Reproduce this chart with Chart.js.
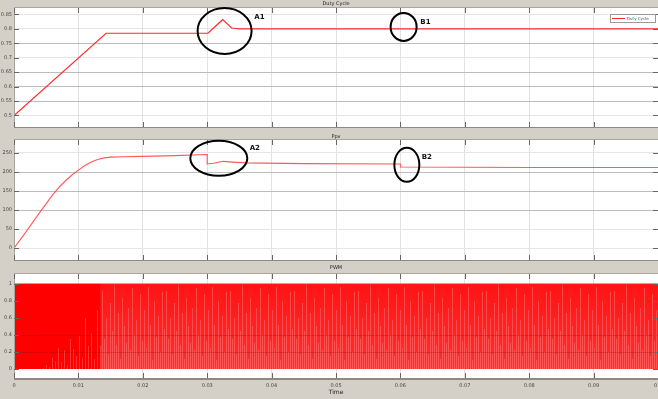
<!DOCTYPE html>
<html>
<head>
<meta charset="utf-8">
<script src="https://cdn.jsdelivr.net/npm/chart.js@4.4.1/dist/chart.umd.min.js"></script>
<style>
  html, body { margin: 0; padding: 0; background: #d4d0c8; }
  body { width: 658px; height: 399px; position: relative; overflow: hidden; }
  canvas { position: absolute; left: 0; }
</style>
</head>
<body>
<canvas id="duty" width="658" height="128" style="top:0px"></canvas>
<canvas id="ppv" width="658" height="133" style="top:128px"></canvas>
<canvas id="pwm" width="658" height="138" style="top:261px"></canvas>
<script>
// ---- shared time axis ----
const timeTicks  = [0, 0.01, 0.02, 0.03, 0.04, 0.05, 0.06, 0.07, 0.08, 0.09, 0.1];
const timeLabels = ['0', '0.01', '0.02', '0.03', '0.04', '0.05', '0.06', '0.07', '0.08', '0.09', '0.1'];

// ---- duty cycle ----
const dutyTime   = [0, 0.0143, 0.0301, 0.0324, 0.0338, 0.0350, 0.0600, 0.1000];
const dutyValue  = [0.500, 0.785, 0.785, 0.832, 0.803, 0.800, 0.800, 0.800];
const dutyTicks  = [0.5, 0.55, 0.6, 0.65, 0.7, 0.75, 0.8, 0.85];
const dutyLabels = ['0.5', '0.55', '0.6', '0.65', '0.7', '0.75', '0.8', '0.85'];

// ---- PV power ----
const ppvTime   = [0, 0.002, 0.004, 0.006, 0.007, 0.008, 0.009, 0.010, 0.011, 0.012, 0.013, 0.014, 0.015, 0.017, 0.020, 0.025, 0.030, 0.030, 0.031, 0.0325, 0.034, 0.036, 0.045, 0.060, 0.060, 0.080, 0.100];
const ppvValue  = [0, 46, 94, 140, 160, 177, 192, 205, 217, 226, 233, 237, 239, 240, 241, 243, 246, 221, 223, 228, 226, 224, 222, 221, 213, 212, 212];
const ppvTicks  = [0, 50, 100, 150, 200, 250];
const ppvLabels = ['0', '50', '100', '150', '200', '250'];

// ---- PWM switching band (high / low levels per phase) ----
const pwmStartTime = [0, 0.0135];
const pwmTrackTime = [0.0135, 0.1];
const pwmHigh = 1;
const pwmLow  = 0;
const pwmTicks  = [0, 0.2, 0.4, 0.6, 0.8, 1];
const pwmLabels = ['0', '0.2', '0.4', '0.6', '0.8', '1'];

// ---- callouts (centres in data units) ----
const dutyNotes = [
  { text: 'A1', t: 0.0327, v: 0.793, lt: 0.0373, lv: 0.841 },
  { text: 'B1', t: 0.0605, v: 0.807, lt: 0.0631, lv: 0.824 }
];
const ppvNotes = [
  { text: 'A2', t: 0.0318, v: 236, lt: 0.0366, lv: 263 },
  { text: 'B2', t: 0.0610, v: 219, lt: 0.0633, lv: 240 }
];

const FONT = 'DejaVu Sans';
const noteShape = { A1: [27, 23], B1: [13, 14], A2: [28.5, 17.5], B2: [12.5, 17] };

const toPoints = (xs, ys) => xs.map((x, i) => ({ x, y: Array.isArray(ys) ? ys[i] : ys }));
const near = (a, b) => Math.abs(a - b) < 1e-9;

// Scope-style frame: white plot box, inward ticks, title, callouts, legend
const scopeFrame = {
  id: 'scopeFrame',
  beforeDraw(chart) {
    const { ctx, chartArea: a } = chart;
    ctx.save();
    ctx.fillStyle = '#d4d0c8';
    ctx.fillRect(0, 0, chart.width, chart.height);
    ctx.fillStyle = '#ffffff';
    ctx.fillRect(a.left, a.top, a.right - a.left, a.bottom - a.top);
    ctx.restore();
  },
  afterDatasetsDraw(chart, args, opts) {
    const { ctx, chartArea: a, scales } = chart;
    ctx.save();
    // faint grid rows that show through the filled band
    (opts.overRows || []).forEach(v => {
      const y = Math.round(scales.y.getPixelForValue(v)) + 0.5;
      ctx.strokeStyle = 'rgba(110,0,0,0.22)';
      ctx.lineWidth = 1;
      ctx.beginPath(); ctx.moveTo(a.left, y); ctx.lineTo(a.right, y); ctx.stroke();
    });
    ctx.restore();
  },
  afterDraw(chart, args, opts) {
    const { ctx, chartArea: a, scales } = chart;
    ctx.save();
    // box
    ctx.strokeStyle = '#a9a59d';
    ctx.lineWidth = 1;
    ctx.strokeRect(a.left + 0.5, a.top - 0.5, a.right - a.left, a.bottom - a.top + 1);
    ctx.strokeStyle = '#8e8a83';
    ctx.lineWidth = 2;
    ctx.beginPath(); ctx.moveTo(a.left, a.bottom + 1); ctx.lineTo(a.right, a.bottom + 1); ctx.stroke();
    // inward tick marks
    ctx.strokeStyle = '#666';
    ctx.lineWidth = 1;
    scales.y.ticks.forEach(t => {
      const y = Math.round(scales.y.getPixelForValue(t.value)) + 0.5;
      ctx.beginPath();
      ctx.moveTo(a.left, y); ctx.lineTo(a.left + 5, y);
      ctx.moveTo(a.right - 5, y); ctx.lineTo(a.right, y);
      ctx.stroke();
    });
    scales.x.ticks.forEach(t => {
      const x = Math.round(scales.x.getPixelForValue(t.value)) + 0.5;
      ctx.beginPath();
      ctx.moveTo(x, a.bottom); ctx.lineTo(x, a.bottom - 5);
      ctx.moveTo(x, a.top); ctx.lineTo(x, a.top + 5);
      ctx.stroke();
    });
    // panel title in the grey band
    ctx.fillStyle = '#222';
    ctx.font = '5px "' + FONT + '"';
    ctx.textAlign = 'center';
    ctx.textBaseline = 'middle';
    ctx.fillText(opts.title, (a.left + a.right) / 2, a.top - opts.titleGap);
    // callouts
    (opts.notes || []).forEach(n => {
      const cx = scales.x.getPixelForValue(n.t);
      const cy = scales.y.getPixelForValue(n.v);
      const [rx, ry] = noteShape[n.text];
      ctx.strokeStyle = '#000';
      ctx.lineWidth = 2;
      ctx.beginPath();
      ctx.ellipse(cx, cy, rx, ry, 0, 0, Math.PI * 2);
      ctx.stroke();
      ctx.fillStyle = '#111';
      ctx.font = 'bold 7px "' + FONT + '"';
      ctx.textAlign = 'left';
      ctx.fillText(n.text, scales.x.getPixelForValue(n.lt), scales.y.getPixelForValue(n.lv));
    });
    // legend box
    if (opts.legend) {
      const ds = chart.data.datasets[0];
      const bx = a.right - 48, by = a.top + 6, bw = 45, bh = 8;
      ctx.fillStyle = '#fff';
      ctx.fillRect(bx, by, bw, bh);
      ctx.strokeStyle = '#9a9a9a';
      ctx.lineWidth = 1;
      ctx.strokeRect(bx + 0.5, by + 0.5, bw, bh);
      ctx.strokeStyle = ds.borderColor;
      ctx.beginPath(); ctx.moveTo(bx + 2, by + 4.5); ctx.lineTo(bx + 15, by + 4.5); ctx.stroke();
      ctx.fillStyle = '#555';
      ctx.font = '4px "' + FONT + '"';
      ctx.textAlign = 'left';
      ctx.fillText(ds.label, bx + 17, by + 4.5);
    }
    ctx.restore();
  }
};

function yScale(min, max, ticks, labels, darkRows) {
  return {
    type: 'linear', min, max,
    afterBuildTicks: s => { s.ticks = ticks.map(v => ({ value: v })); },
    afterFit: s => { s.width = 14; s.paddingTop = 0; s.paddingBottom = 0; },
    ticks: {
      autoSkip: false, padding: 2, color: '#444',
      font: { family: FONT, size: 5 },
      callback: (v, i) => labels[i]
    },
    grid: {
      drawTicks: false,
      color: c => darkRows.some(d => near(d, c.tick ? c.tick.value : NaN)) ? '#bdbdbd' : '#e6e6e6'
    },
    border: { display: false }
  };
}

function xScale(showLabels, height) {
  return {
    type: 'linear', min: 0, max: 0.1,
    afterBuildTicks: s => { s.ticks = timeTicks.map(v => ({ value: v })); },
    afterFit: s => { s.height = height; s.paddingLeft = 0; s.paddingRight = 0; },
    ticks: {
      display: showLabels, autoSkip: false, maxRotation: 0, minRotation: 0,
      padding: 5, color: '#444', font: { family: FONT, size: 5 },
      callback: (v, i) => timeLabels[i]
    },
    grid: { drawTicks: false, color: '#e2e2e2' },
    border: { display: false },
    title: {
      display: showLabels, text: 'Time', color: '#222',
      font: { family: FONT, size: 6 }, padding: { top: 0, bottom: 3 }
    }
  };
}

const common = {
  responsive: false,
  animation: false,
  devicePixelRatio: 1,
  events: [],
  elements: { point: { radius: 0 }, line: { tension: 0 } }
};

// Duty cycle panel
new Chart(document.getElementById('duty'), {
  type: 'line',
  data: {
    datasets: [{
      label: 'Duty Cycle',
      data: toPoints(dutyTime, dutyValue),
      borderColor: '#ff2a2a', borderWidth: 1.2, fill: false
    }]
  },
  options: Object.assign({}, common, {
    layout: { padding: { top: 8, bottom: 1, left: 0, right: 0 } },
    scales: {
      x: xScale(false, 0),
      y: yScale(0.46, 0.8725, dutyTicks, dutyLabels, [0.75, 0.65, 0.6, 0.55])
    },
    plugins: {
      legend: { display: false }, tooltip: { enabled: false },
      scopeFrame: { title: 'Duty Cycle', titleGap: 4, notes: dutyNotes, legend: true }
    }
  }),
  plugins: [scopeFrame]
});

// PV power panel
new Chart(document.getElementById('ppv'), {
  type: 'line',
  data: {
    datasets: [{
      label: 'Ppv',
      data: toPoints(ppvTime, ppvValue),
      borderColor: 'rgba(255,60,60,0.85)', borderWidth: 1.1, fill: false
    }]
  },
  options: Object.assign({}, common, {
    layout: { padding: { top: 12, bottom: 1, left: 0, right: 0 } },
    scales: {
      x: xScale(false, 0),
      y: yScale(-31, 284, ppvTicks, ppvLabels, [200, 150, 100])
    },
    plugins: {
      legend: { display: false }, tooltip: { enabled: false },
      scopeFrame: { title: 'Ppv', titleGap: 3, notes: ppvNotes }
    }
  }),
  plugins: [scopeFrame]
});

// Streaked fills that mimic the densely switching gate signal
const streakLen = [0.92, 0.35, 0.6, 0.18, 0.78, 0.45, 1.0, 0.28, 0.66, 0.12, 0.84, 0.5, 0.3, 0.72, 0.22, 0.95,
                   0.4, 0.58, 0.15, 0.88, 0.33, 0.7, 0.25, 0.97, 0.52, 0.1, 0.8, 0.38, 0.62, 0.2, 0.9, 0.47];
const patternCache = {};
function streakFill(kind) {
  return context => {
    const chart = context.chart;
    const a = chart.chartArea;
    if (!a) return '#ff1a1a';
    const y = chart.scales.y, x = chart.scales.x;
    const top = y.getPixelForValue(pwmHigh), bot = y.getPixelForValue(pwmLow);
    const h = Math.max(1, Math.round(bot - top));
    const span = kind === 'start' ? pwmStartTime : pwmTrackTime;
    const x0 = x.getPixelForValue(span[0]);
    const key = kind + h + ':' + top;
    if (patternCache[key]) return patternCache[key];
    const off = document.createElement('canvas');
    const g = off.getContext('2d');
    let w;
    if (kind === 'start') {
      // solid red, light streaks creep up from the bottom as the ramp proceeds
      w = Math.ceil(x.getPixelForValue(span[1]) - x0);
      off.width = w; off.height = h;
      g.fillStyle = '#ff0000';
      g.fillRect(0, 0, w, h);
      for (let px = Math.round(w * 0.3), i = 0; px < w; px += 3, i++) {
        const ramp = (px - w * 0.3) / (w * 0.7);
        const len = Math.round(h * streakLen[i % streakLen.length] * ramp * 0.85);
        g.fillStyle = 'rgba(255,120,120,0.45)';
        g.fillRect(px, h - len, 1, len);
      }
    } else {
      w = streakLen.length * 2;
      off.width = w; off.height = h;
      const grad = g.createLinearGradient(0, 0, 0, h);
      grad.addColorStop(0, '#ff1414');
      grad.addColorStop(1, '#ff3030');
      g.fillStyle = grad;
      g.fillRect(0, 0, w, h);
      streakLen.forEach((f, i) => {
        g.fillStyle = 'rgba(255,140,140,0.42)';
        const len = Math.round(h * f);
        g.fillRect(i * 2 + 1, h - len, 1, len);
      });
    }
    const pat = g.createPattern(off, kind === 'start' ? 'no-repeat' : 'repeat');
    pat.setTransform(new DOMMatrix([1, 0, 0, 1, x0, top]));
    patternCache[key] = pat;
    return pat;
  };
}

// PWM panel
new Chart(document.getElementById('pwm'), {
  type: 'line',
  data: {
    datasets: [
      {
        label: 'PWM start-up',
        data: toPoints(pwmStartTime, pwmHigh),
        borderColor: '#ff0000', borderWidth: 1,
        backgroundColor: streakFill('start'), fill: 'origin'
      },
      {
        label: 'PWM tracking',
        data: toPoints(pwmTrackTime, pwmHigh),
        borderColor: '#ff1a1a', borderWidth: 1,
        backgroundColor: streakFill('track'), fill: 'origin'
      }
    ]
  },
  options: Object.assign({}, common, {
    layout: { padding: { top: 13, bottom: 0, left: 0, right: 0 } },
    scales: {
      x: xScale(true, 21),
      y: yScale(-0.106, 1.118, pwmTicks, pwmLabels, [])
    },
    plugins: {
      legend: { display: false }, tooltip: { enabled: false },
      filler: { propagate: false },
      scopeFrame: { title: 'PWM', titleGap: 6, overRows: [0.4, 0.2] }
    }
  }),
  plugins: [scopeFrame]
});
</script>
</body>
</html>
